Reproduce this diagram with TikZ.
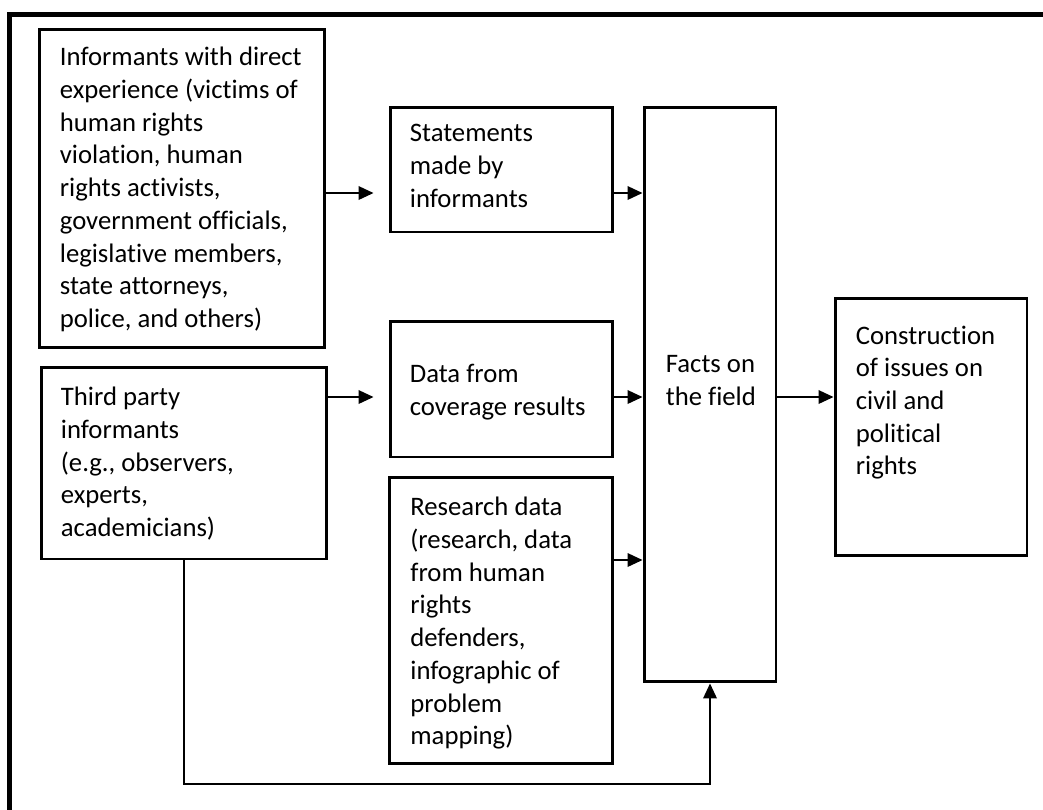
\documentclass[tikz,border=0pt]{standalone}
\usepackage{fontspec}
\setmainfont{Carlito}[Ligatures=NoCommon]
\usetikzlibrary{arrows.meta}
\tikzset{
    block/.style={draw, line width=1.7pt, inner sep=0pt, fill=white},
    blocktext/.style={anchor=north west, align=left, inner sep=0pt, font=\fontsize{15.2}{18.6}\selectfont},
    flow/.style={line width=1.1pt, -{Triangle[length=0.3cm, width=0.27cm]}}
}

\begin{document}
\begin{tikzpicture}[x=0.02cm, y=-0.02cm]
            \useasboundingbox (0,0) rectangle (1043,809);
            % frame (only top and left edges show)
            \draw[line width=2.45pt] (1060,14.5) -- (9.5,14.5) -- (9.5,830);

            % sources
            \node[block, minimum width=5.72cm, minimum height=6.38cm] (inf) at (182,188.5) {};
            \node[block, minimum width=5.72cm, minimum height=3.84cm] (third) at (184,463) {};

            % collected data
            \node[block, minimum width=4.46cm, minimum height=2.5cm] (stm) at (501.5,169.5) {};
            \node[block, minimum width=4.46cm, minimum height=2.72cm] (data) at (501.5,389) {};
            \node[block, minimum width=4.46cm, minimum height=5.74cm] (res) at (501,620.5) {};

            % facts and result
            \node[block, minimum width=2.64cm, minimum height=11.5cm] (facts) at (710,394.5) {};
            \node[block, minimum width=3.84cm, minimum height=5.16cm] (con) at (931,427) {};

            % texts
            \node[blocktext] (inftxt) at ([shift={(22,19.5)}]inf.north west)
                {Informants with direct\\experience (victims of\\human rights\\violation, human\\rights activists,\\government officials,\\legislative members,\\state attorneys,\\police, and others)};
            \node[blocktext] (thirdtxt) at ([shift={(21,21.5)}]third.north west)
                {Third party\\informants\\(e.g., observers,\\experts,\\academicians)};
            \node[blocktext] (stmtxt) at ([shift={(21,18.5)}]stm.north west)
                {Statements\\made by\\informants};
            \node[blocktext] (datatxt) at ([shift={(21,44.5)}]data.north west)
                {Data from\\coverage results};
            \node[blocktext] (restxt) at ([shift={(22,21.5)}]res.north west)
                {Research data\\(research, data\\from human\\rights\\defenders,\\infographic of\\problem\\mapping)};
            \node[blocktext] (factstxt) at ([shift={(23,249.5)}]facts.north west)
                {Facts on\\the field};
            \node[blocktext] (contxt) at ([shift={(22,29)}]con.north west)
                {Construction\\of issues on\\civil and\\political\\rights};

            % rows of the arrows
            \coordinate (r1) at (0,193);
            \coordinate (r2) at (0,397);
            \coordinate (r3) at (0,560);
            \coordinate (floor) at (0,784);

            % arrows
            \draw[flow, shorten >=0.3cm] (inf.east |- r1) -- (stm.west |- r1);
            \draw[flow, shorten >=0.3cm] (third.east |- r2) -- (data.west |- r2);
            \draw[flow] (stm.east |- r1) -- (facts.west |- r1);
            \draw[flow] (data.east |- r2) -- (facts.west |- r2);
            \draw[flow] (res.east |- r3) -- (facts.west |- r3);
            \draw[flow] (facts.east |- r2) -- (con.west |- r2);
            \draw[flow] (third.south) -- (third.south |- floor) -| (facts.south);
        \end{tikzpicture}
\end{document}
